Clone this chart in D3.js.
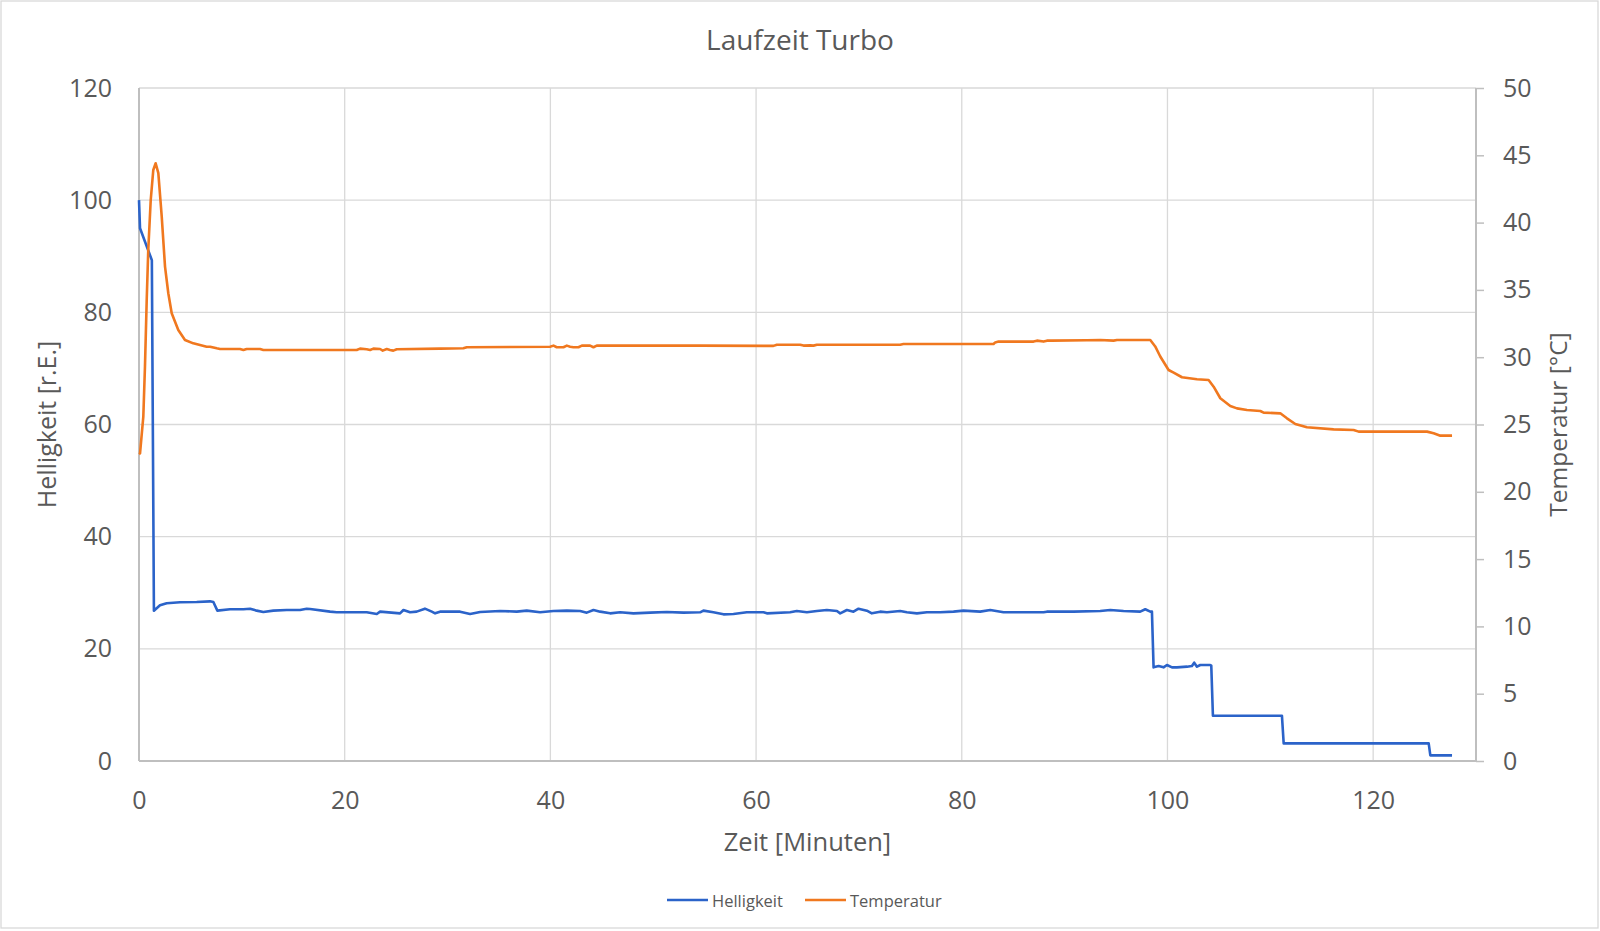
<!DOCTYPE html>
<html><head><meta charset="utf-8">
<script src="https://cdn.jsdelivr.net/npm/d3@7"></script>
<style>html,body{margin:0;padding:0;background:#fff}svg{display:block}</style>
</head><body>
<script>
const chartTitle = "Laufzeit Turbo";
const xTicks = [0,20,40,60,80,100,120];
const yLeftTicks = [0,20,40,60,80,100,120];
const yRightTicks = [0,5,10,15,20,25,30,35,40,45,50];
const seriesNames = ["Helligkeit","Temperatur"];

const hellT = [0,0.1,1.25,1.45,2.04,2.69,3.99,5.61,6.9,7.23,7.62,8.85,10.15,10.8,11.44,12.09,13.06,14.36,15.33,15.66,16.3,16.63,18.58,19.22,22.14,23.12,23.44,25.38,25.71,26.36,27.0,27.8,28.47,28.79,29.27,31.22,32.19,33.17,35.11,36.73,37.7,39.0,40.3,41.6,42.89,43.54,44.19,44.84,45.81,46.78,48.08,49.7,51.32,52.94,54.56,54.88,55.85,56.83,57.8,59.1,60.72,61.05,63.31,63.96,64.94,65.91,66.88,67.86,68.18,68.83,69.47,69.96,70.77,71.26,72.07,72.72,74.01,74.66,75.64,76.61,77.9,79.2,80.17,81.79,82.77,84.06,86.0,87.95,88.27,90.87,93.46,94.44,95.73,97.35,97.84,98.33,98.49,98.65,99.14,99.62,99.95,100.44,100.92,101.9,102.38,102.6,102.87,103.19,104.16,104.26,104.42,110.0,111.13,111.3,125.4,125.56,127.67];
const hellV = [100,95,89.3,26.8,27.76,28.12,28.3,28.35,28.47,28.35,26.81,27.05,27.05,27.16,26.81,26.57,26.81,26.93,26.93,26.93,27.16,27.1,26.63,26.51,26.51,26.21,26.63,26.33,26.93,26.51,26.63,27.16,26.63,26.33,26.63,26.63,26.21,26.57,26.75,26.63,26.81,26.51,26.75,26.81,26.75,26.45,26.93,26.63,26.33,26.51,26.33,26.45,26.57,26.45,26.51,26.81,26.51,26.15,26.21,26.51,26.51,26.33,26.51,26.75,26.51,26.75,26.93,26.75,26.33,26.93,26.63,27.16,26.81,26.33,26.63,26.51,26.75,26.51,26.33,26.51,26.51,26.63,26.81,26.63,26.93,26.51,26.51,26.51,26.63,26.63,26.75,26.93,26.75,26.63,27.05,26.63,26.63,16.7,16.94,16.7,17.12,16.7,16.7,16.82,16.94,17.53,16.82,17.12,17.12,17.0,8.08,8.08,8.08,3.15,3.15,1.01,1.01];

const tempT = [0,0.1,0.42,0.58,0.75,0.9,1.14,1.39,1.62,1.88,2.21,2.53,2.85,3.18,3.82,4.47,5.28,5.93,6.58,6.91,7.56,7.88,9.82,10.15,10.47,11.77,12.09,19.87,21.17,21.49,22.14,22.47,22.79,23.44,23.7,24.09,24.41,24.73,25.06,29.27,31.54,31.87,39.97,40.3,40.62,41.27,41.6,41.92,42.24,42.73,43.06,43.86,44.19,44.51,54.56,61.69,62.02,64.29,64.61,65.26,65.58,65.91,74.01,74.33,83.09,83.25,83.57,86.98,87.31,87.95,88.28,88.77,92.17,93.46,94.76,95.09,98.33,98.81,99.3,100.11,100.6,101.41,102.87,104.0,104.49,105.14,106.11,106.76,107.73,109.03,109.35,110.97,111.62,112.43,113.56,116.16,118.1,118.59,125.24,125.88,126.53,127.67];
const tempV = [22.8,22.86,25.58,29.3,34.25,37.97,41.68,43.91,44.41,43.67,40.44,36.73,34.75,33.26,32.02,31.28,31.03,30.91,30.78,30.78,30.66,30.61,30.61,30.54,30.61,30.61,30.54,30.54,30.54,30.64,30.59,30.54,30.64,30.61,30.49,30.61,30.54,30.49,30.59,30.64,30.66,30.74,30.78,30.86,30.74,30.74,30.86,30.78,30.74,30.74,30.86,30.86,30.74,30.86,30.86,30.84,30.93,30.93,30.86,30.88,30.86,30.93,30.93,30.98,30.98,31.1,31.16,31.16,31.23,31.16,31.23,31.23,31.26,31.28,31.23,31.28,31.28,30.8,30.05,29.05,28.85,28.51,28.36,28.31,27.81,26.95,26.38,26.2,26.08,26.0,25.88,25.83,25.46,25.04,24.79,24.64,24.59,24.47,24.47,24.35,24.17,24.17];

const W = 1600, H = 931;
const FONT = "'Open Sans', 'Noto Sans', sans-serif";
const TXT = "#595959";
const BLUE = "#2b63c9", ORANGE = "#f0781f";
const plot = {left:139, right:1476, top:88, bottom:761};

const svg = d3.select("body").append("svg").attr("width", W).attr("height", H);
svg.append("rect").attr("x",0).attr("y",0).attr("width",W).attr("height",H).attr("fill","#fff");
svg.append("rect").attr("x",1).attr("y",1).attr("width",W-3).attr("height",H-4)
  .attr("fill","none").attr("stroke","#d9d9d9").attr("stroke-width",1.3);

const x = d3.scaleLinear().domain([0,130]).range([plot.left, plot.right]);
const yL = d3.scaleLinear().domain([0,120]).range([plot.bottom, plot.top]);
const yR = d3.scaleLinear().domain([0,50]).range([plot.bottom, plot.top]);

// gridlines
const grid = svg.append("g");
grid.selectAll(".gh").data(yLeftTicks.filter(d=>d>0)).join("line")
  .attr("x1", plot.left).attr("x2", plot.right)
  .attr("y1", d=>yL(d)).attr("y2", d=>yL(d))
  .attr("stroke","#d9d9d9").attr("stroke-width",1.3);
grid.selectAll(".gv").data(xTicks.filter(d=>d>0)).join("line")
  .attr("x1", d=>x(d)).attr("x2", d=>x(d))
  .attr("y1", plot.top).attr("y2", plot.bottom)
  .attr("stroke","#d9d9d9").attr("stroke-width",1.3);

// axes
const axB = d3.axisBottom(x).tickValues(xTicks).tickSize(0).tickPadding(30);
const gB = svg.append("g").attr("transform",`translate(0,${plot.bottom})`).call(axB);
const axLft = d3.axisLeft(yL).tickValues(yLeftTicks).tickSize(0).tickPadding(27);
const gL = svg.append("g").attr("transform",`translate(${plot.left},0)`).call(axLft);
const axRt = d3.axisRight(yR).tickValues(yRightTicks).tickSize(8).tickPadding(19);
const gR = svg.append("g").attr("transform",`translate(${plot.right},0)`).call(axRt);
[gB,gL,gR].forEach(g=>{
  g.select(".domain").attr("stroke","#bfbfbf").attr("stroke-width",2);
  g.selectAll(".tick line").attr("stroke","#bfbfbf").attr("stroke-width",1.5);
  g.selectAll(".tick text").attr("fill",TXT).style("font-family",FONT).style("font-size","25px");
});
gB.select(".domain").attr("d",`M${plot.left},0H${plot.right}`);
gL.select(".domain").attr("d",`M0,${plot.top}V${plot.bottom}`);
gR.select(".domain").attr("d",`M0,${plot.top}V${plot.bottom}`);

// lines
const lineL = d3.line().x((d,i)=>x(hellT[i])).y(d=>yL(d));
const lineR = d3.line().x((d,i)=>x(tempT[i])).y(d=>yR(d));
svg.append("path").attr("d", lineL(hellV)).attr("fill","none").attr("stroke",BLUE)
  .attr("stroke-width",2.6).attr("stroke-linejoin","round");
svg.append("path").attr("d", lineR(tempV)).attr("fill","none").attr("stroke",ORANGE)
  .attr("stroke-width",2.6).attr("stroke-linejoin","round");

// titles
svg.append("text").attr("x",800).attr("y",39).attr("text-anchor","middle").attr("dominant-baseline","central")
  .attr("fill",TXT).style("font-family",FONT).style("font-size","28px").text(chartTitle);
svg.append("text").attr("x",(plot.left+plot.right)/2).attr("y",841).attr("text-anchor","middle").attr("dominant-baseline","central")
  .attr("fill",TXT).style("font-family",FONT).style("font-size","25.5px").text("Zeit [Minuten]");
svg.append("text").attr("transform",`translate(46,${(plot.top+plot.bottom)/2}) rotate(-90)`).attr("text-anchor","middle").attr("dominant-baseline","central")
  .attr("fill",TXT).style("font-family",FONT).style("font-size","25px").text("Helligkeit [r.E.]");
svg.append("text").attr("transform",`translate(1557,${(plot.top+plot.bottom)/2}) rotate(-90)`).attr("text-anchor","middle").attr("dominant-baseline","central")
  .attr("fill",TXT).style("font-family",FONT).style("font-size","24.5px").text("Temperatur [°C]");

// legend
const legend = svg.append("g");
const legItems = [{name:seriesNames[0], color:BLUE, x:667},{name:seriesNames[1], color:ORANGE, x:805}];
legItems.forEach(it=>{
  legend.append("line").attr("x1",it.x).attr("x2",it.x+41).attr("y1",900).attr("y2",900)
    .attr("stroke",it.color).attr("stroke-width",2.6);
  legend.append("text").attr("x",it.x+45).attr("y",900).attr("dominant-baseline","central")
    .attr("fill",TXT).style("font-family",FONT).style("font-size","16.5px").text(it.name);
});
</script>
</body></html>
